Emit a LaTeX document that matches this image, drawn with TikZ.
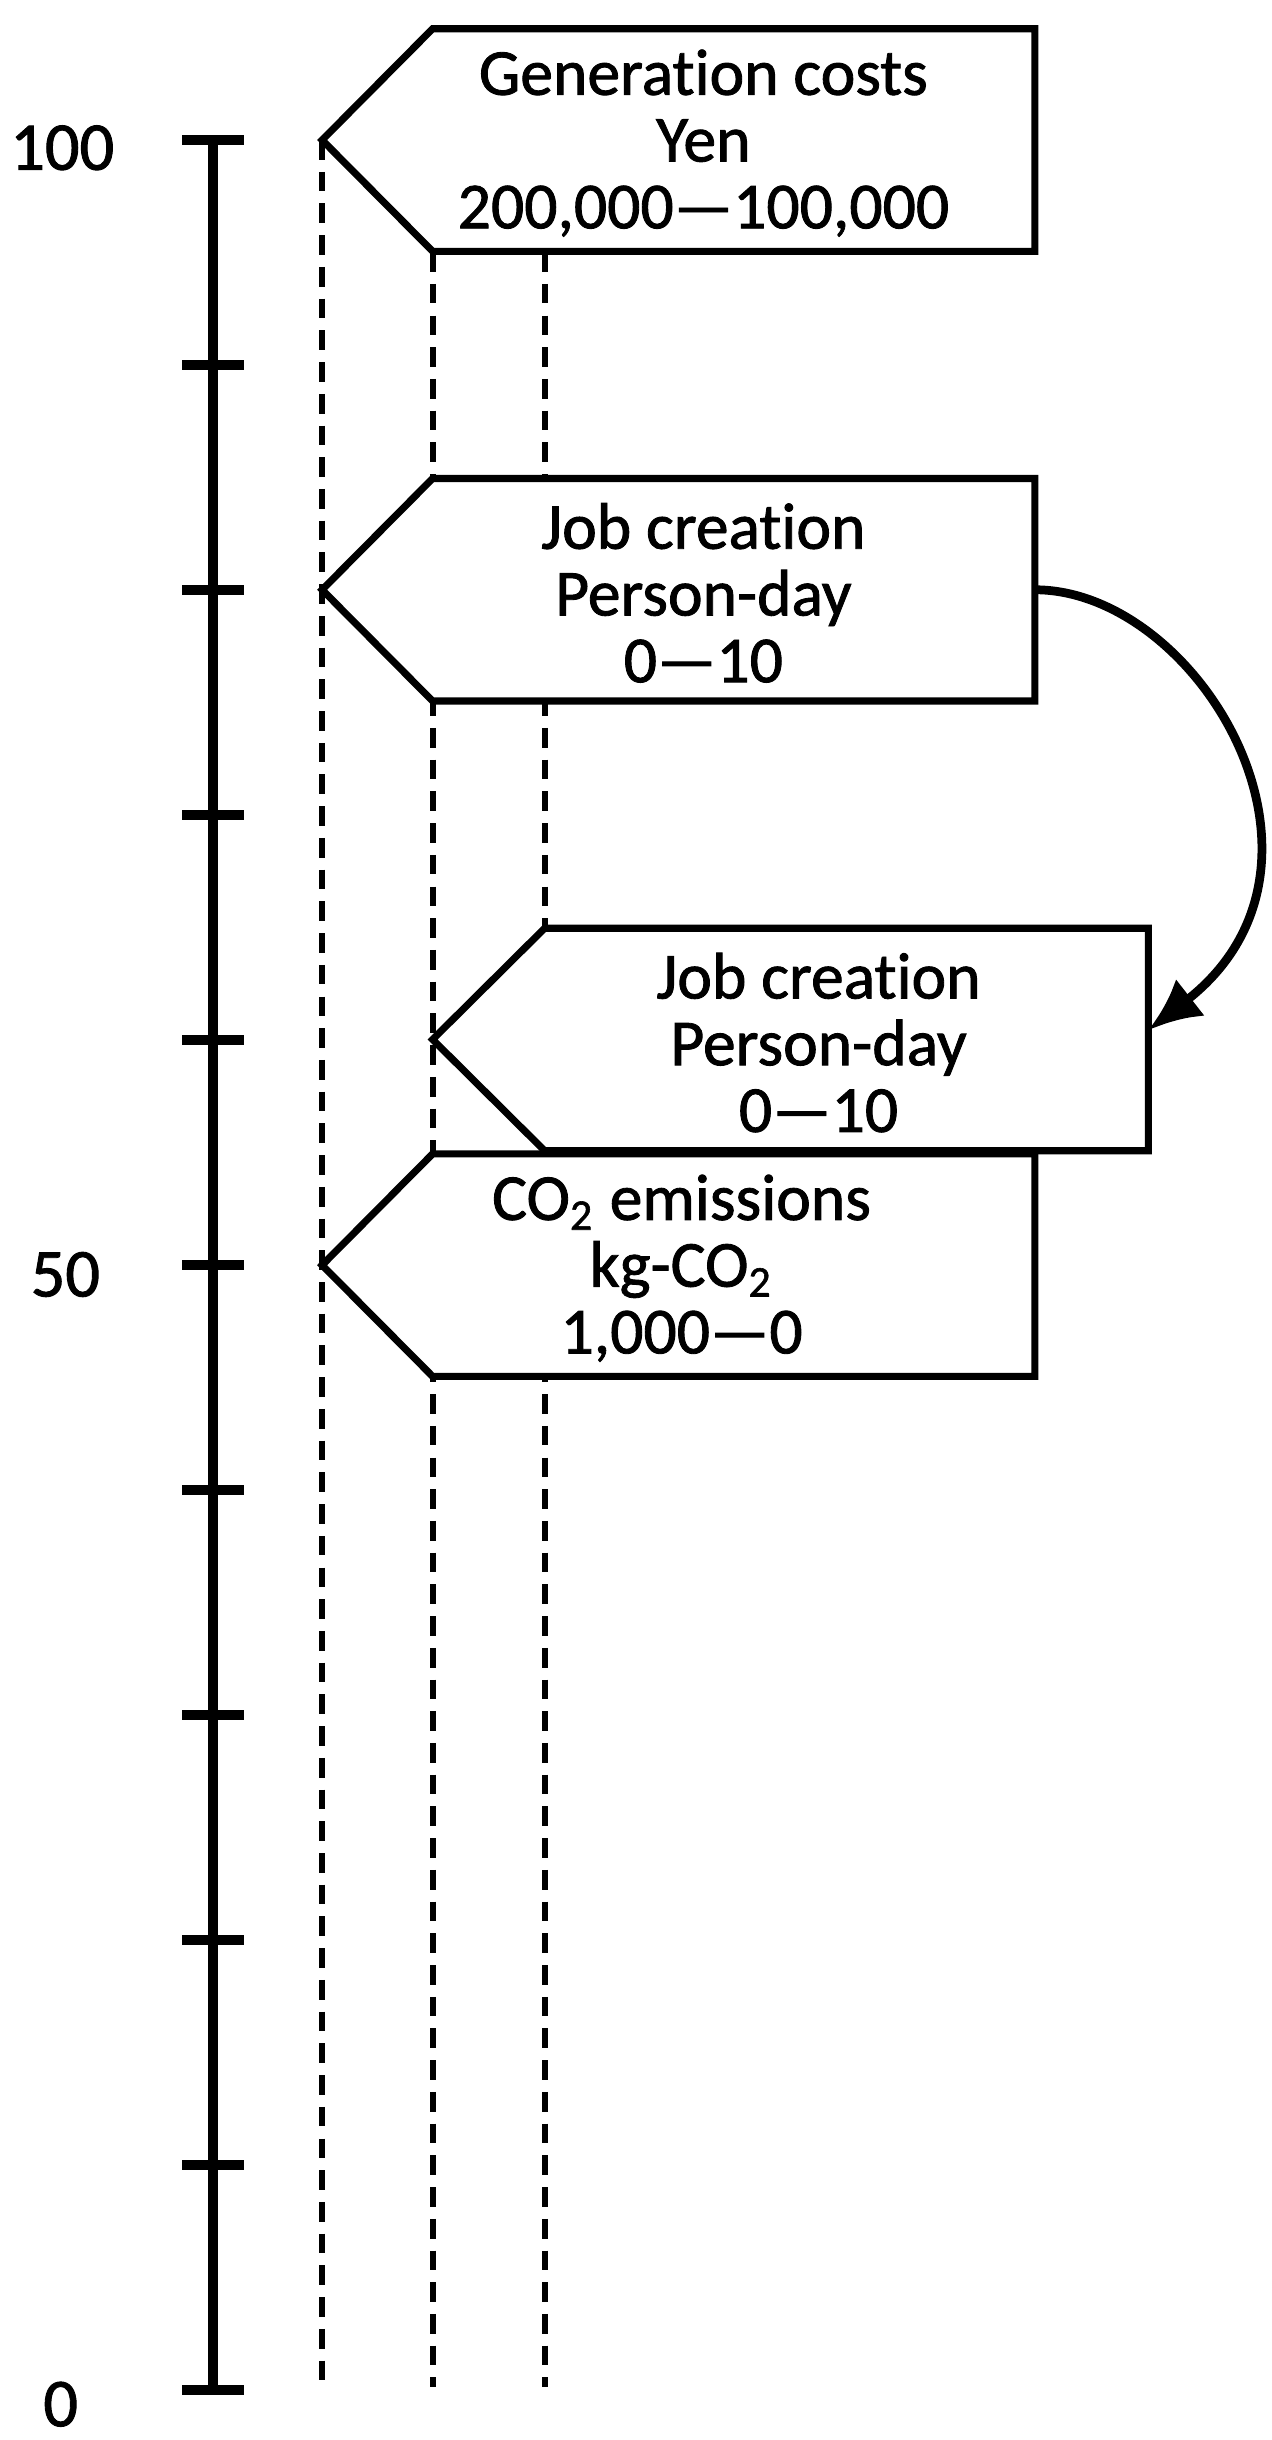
\documentclass[tikz,border=0pt]{standalone}
\usepackage{fontspec}
\setmainfont{Carlito}[FakeBold=1.3,Ligatures={TeX,NoCommon}]
\usetikzlibrary{arrows.meta}
\begin{document}
\begin{tikzpicture}[
    axis/.style={line width=1.8pt},
    guide/.style={line width=1.1pt,dash pattern=on 3.6pt off 2.2pt},
    pentbox/.style={line width=1.3pt,fill=white,line join=miter},
    boxtext/.style={align=center,inner sep=0pt,font=\fontsize{12}{12.2}\selectfont},
    ticklabel/.style={inner sep=0pt,font=\fontsize{12.5}{14}\selectfont},
    link/.style={line width=1.6pt,-{Latex[length=0.34cm,width=0.3cm]}}
  ]
  \useasboundingbox (0,0) rectangle (8.17,-15.68);
  % scale 0..100
  \draw[axis] (1.37,-0.90) -- (1.37,-15.36);
  \foreach \i in {0,...,10}
    \draw[axis] (1.17,-0.90-1.446*\i) -- (1.57,-0.90-1.446*\i);
  \node[ticklabel] (t100) at (0.40,-0.95) {100};
  \node[ticklabel] (t50) at (0.42,-8.19) {50};
  \node[ticklabel] (t0) at (0.39,-15.45) {0};
  % guides
  \draw[guide] (2.07,-0.90) -- (2.07,-15.34);
  \draw[guide] (2.78,-1.62) -- (2.78,-15.34);
  \draw[guide] (3.50,-1.62) -- (3.50,-15.34);
  % boxes
  \draw[pentbox] (2.07,-0.90) -- (2.78,-0.185) -- (6.65,-0.185) -- (6.65,-1.615) -- (2.78,-1.615) -- cycle;
  \node[boxtext] (gen) at (4.52,-0.92) {Generation costs\\Yen\\200,000—100,000};
  \draw[pentbox] (2.07,-3.79) -- (2.78,-3.075) -- (6.65,-3.075) -- (6.65,-4.505) -- (2.78,-4.505) -- cycle;
  \node[boxtext] (job1) at (4.52,-3.81) {Job creation\\Person-day\\0—10};
  \draw[pentbox] (2.78,-6.68) -- (3.50,-5.965) -- (7.38,-5.965) -- (7.38,-7.395) -- (3.50,-7.395) -- cycle;
  \node[boxtext] (job2) at (5.26,-6.70) {Job creation\\Person-day\\0—10};
  \draw[pentbox] (2.07,-8.13) -- (2.78,-7.415) -- (6.65,-7.415) -- (6.65,-8.845) -- (2.78,-8.845) -- cycle;
  \node[boxtext] (co2) at (4.38,-8.15) {CO\textsubscript{2} emissions\\kg-CO\textsubscript{2}\\1,000—0};
  % move
  \coordinate (j1) at (6.65,-3.79);
  \coordinate (j2) at (7.38,-6.62);
  \draw[link] (j1) .. controls (7.7,-3.79) and (8.75,-5.55) .. (j2);
\end{tikzpicture}
\end{document}
